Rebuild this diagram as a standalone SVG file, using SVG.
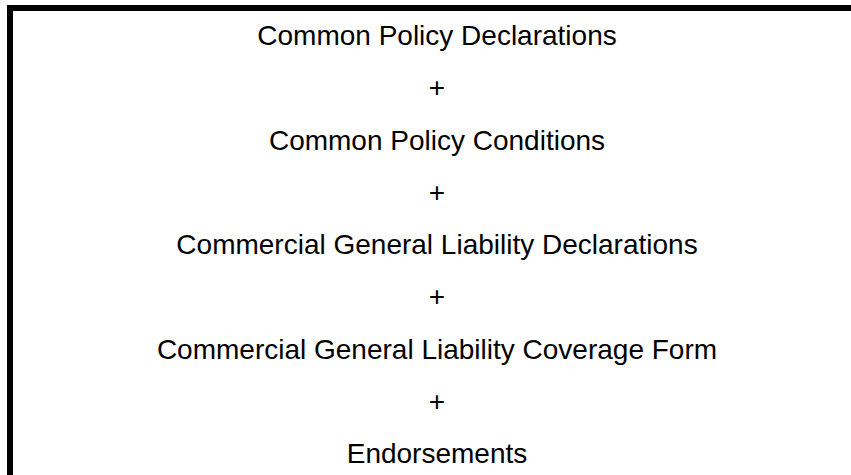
<svg xmlns="http://www.w3.org/2000/svg" width="851" height="475" viewBox="0 0 851 475">
<style>
.t{font-family:"Liberation Sans",Arial,sans-serif;font-size:28px;fill:#000;text-anchor:middle}
</style>
<rect width="851" height="475" fill="#fff"/>
<g id="frame">
<rect x="7" y="5" width="844" height="6" fill="#000"/>
<rect x="7" y="5" width="6" height="470" fill="#000"/>
</g>
<g id="n1"><text class="t" x="437" y="45">Common Policy Declarations</text></g>
<g id="p1"><text class="t" x="437" y="97">+</text></g>
<g id="n2"><text class="t" x="437" y="149.5">Common Policy Conditions</text></g>
<g id="p2"><text class="t" x="437" y="202">+</text></g>
<g id="n3"><text class="t" x="437" y="254">Commercial General Liability Declarations</text></g>
<g id="p3"><text class="t" x="437" y="306">+</text></g>
<g id="n4"><text class="t" x="437" y="358.5">Commercial General Liability Coverage Form</text></g>
<g id="p4"><text class="t" x="437" y="411">+</text></g>
<g id="n5"><text class="t" x="437" y="463">Endorsements</text></g>
<g id="connectors"></g>
</svg>
